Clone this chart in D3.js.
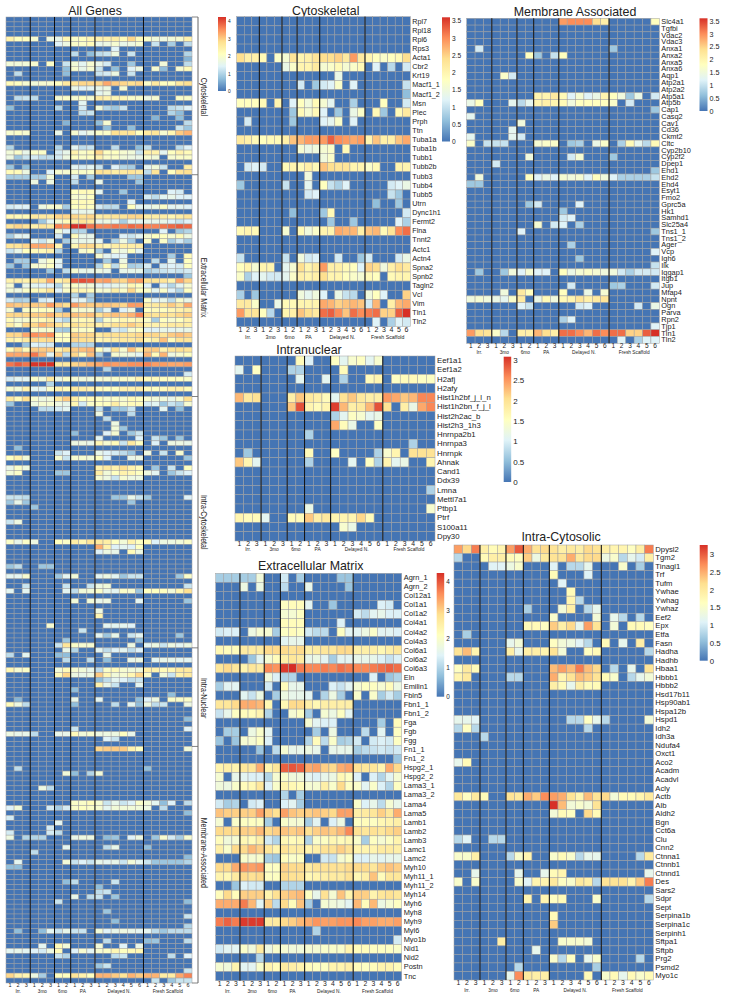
<!DOCTYPE html>
<html lang="en">
  <head>
    <meta charset="UTF-8" />
    <title></title>
    <script src="https://d3js.org/d3.v7.min.js"></script>
    <style>
      body { margin: 0; background: #fff; }
      text { font-family: 'Liberation Sans', Arial, sans-serif; fill: #222; }
    </style>
  </head>
  <body>
    <svg id="my_dataviz" width="729" height="999"></svg>
    <script>
      // Columns: sample number and experimental group
      const sampleLabels = [1,2,3, 1,2,3, 1,2, 1,2,3, 1,2,3,4,5,6, 1,2,3,4,5,6]
      const groupNames = ['Irr.', '3mo', '6mo', 'PA', 'Delayed N.', 'Fresh Scaffold']
      const groupSizes = [3, 3, 2, 3, 6, 6]

      const paletteColors = ['#4575b4', '#91bfdb', '#e0f3f8', '#ffffbf', '#fee090', '#fc8d59', '#d73027']

      const cytoskeletalGenes = ['Rpl7','Rpl18','Rpl6','Rps3','Acta1','Cbr2','Krt19','Macf1_1','Macf1_2','Msn','Plec','Prph','Ttn','Tuba1a','Tuba1b','Tubb1','Tubb2b','Tubb3','Tubb4','Tubb5','Utrn','Dync1h1','Fermt2','Flna','Tnnt2','Actc1','Actn4','Spna2','Spnb2','Tagln2','Vcl','Vim','Tln1','Tln2']
      const cytoskeletalValues = [
        [0,0,0, 0,0,0, 0,0, 0,0,0, 0,0,0,0,0,0, 0,0,0,0,0,0],
        [0,0,0, 0,0,0, 0,0, 0,0,0, 0,0,0,0,0,0, 0,0,0,0,0,0],
        [0,0,0, 0,0,0, 0,0, 0,0,0, 0,0,0,0,0,0, 0,0,0,0,0,0],
        [0,0,0, 0,0,0, 0,0, 0,0,0, 0,0,0,0,0,0, 0,0,0,0,0,0],
        [2.4,2.1,2.1, 1.9,0,1.7, 1.6,2.3, 2,2.1,2.3, 2.4,2.4,2.5,2.2,2.9,2.2, 2,1.8,1.7,1.8,1.9,2.4],
        [0,0,0, 0,0,0, 1.4,1.7, 2,2,2.2, 1.6,1.7,1.9,1.6,1.7,1.9, 0,1.2,0,.9,0,1.1],
        [0,0,0, 0,0,0, 0,0, 0,0,0, 0,0,1.4,0,0,0, 0,0,0,0,0,0],
        [0,0,0, 0,0,0, 0,0, 1.1,0,.7, 1.1,1.2,1.7,0,1.2,0, 0,0,0,0,0,1],
        [0,0,0, 0,0,0, 0,0, 0,0,0, 0,0,0,0,0,0, 0,0,0,0,0,.6],
        [1.8,1.8,1.8, 1.9,0,2, 0,1.2, 1.8,1.5,1.9, 1.6,1.3,0,0,.8,0, 0,0,1.8,0,0,1.1],
        [0,0,0, 0,0,0, 0,.7, 1.9,1.6,1.9, 1.2,0,.7,0,1.4,1.7, 0,1.9,.7,0,1.9,2.2],
        [0,1.1,0, 0,0,0, 0,.7, 0,0,0, 1.2,1.3,1.7,0,1.2,0, 0,0,0,0,0,0],
        [0,0,0, 0,0,0, 0,0, 0,0,0, 0,0,0,0,0,0, 0,0,0,0,0,0],
        [2.2,2.1,1.9, 1.8,1.9,1.9, 2.1,2.6, 2.7,2.9,2.9, 2.9,3.3,3,2.9,2.8,2.9, 2,2.6,2.1,2.1,2.6,2.8],
        [0,0,0, 0,0,0, 0,0, 1.6,1.4,1.5, 1.6,1.7,0,1.9,0,0, 0,0,0,0,0,0],
        [0,0,0, 0,0,0, 0,0, 0,0,0, 1.5,1.7,0,0,0,0, 0,0,0,0,0,0],
        [0,1.1,1.2, 1.1,0,0, 1.9,2, 1.9,2.1,1.9, 2.6,2.4,2.3,2.3,2,2, 1.7,1.9,0,0,2,2],
        [0,0,0, 0,0,0, 0,0, 0,1.5,0, 0,0,0,0,0,0, 0,0,0,0,0,0],
        [.7,0,0, 0,0,0, 1,0, 0,1.3,0, 1.8,1,.8,1.2,0,0, 0,0,0,1.1,1.2,1.4],
        [0,0,0, 0,0,0, 0,0, 0,1.1,1.2, 0,0,0,0,0,0, 0,0,0,1,.7,0],
        [0,0,0, 0,0,0, 0,0, 0,0,0, 0,0,0,0,0,0, 0,.6,0,0,.7,0],
        [0,0,0, 0,0,0, 0,.6, 0,0,0, .7,1.9,0,0,0,0, 0,0,0,0,0,1.1],
        [0,0,0, 0,0,0, 0,0, 0,0,0, 0,.7,0,0,.7,0, 0,0,0,0,1.2,.8],
        [1.9,2,1.9, 0,0,0, 1.6,0, 1.9,1.5,1.7, 2,2,2.8,2.7,2.7,2.1, 2.6,2.7,1.9,2.3,3,3.2],
        [0,0,0, 0,0,0, 0,0, 0,0,0, 0,0,0,0,0,0, 0,0,0,0,0,0],
        [0,0,0, 0,0,0, 0,0, 0,0,0, 0,0,0,0,0,0, 0,0,0,0,0,0],
        [1,0,0, 0,0,0, 1,0, 1.5,1.1,1.2, 0,0,1.1,0,0,.7, 1.1,0,0,0,1.1,1.4],
        [1.8,2,1.6, 2,2,0, 1.3,1.6, 2.4,2,2.2, 2.9,2.1,2.1,1.9,1.8,1.2, 2.5,2.4,1.5,2.1,2.4,2.2],
        [1.7,.8,1.2, 1.3,1.1,1.1, 1.3,1.7, 2.1,2,2.1, 2.4,2,2,1.8,1.7,1.6, 1.9,1.8,0,1.9,2,2],
        [0,0,0, 0,0,0, 0,0, 0,0,0, 0,0,0,0,0,0, 0,0,0,0,0,0],
        [.8,0,.7, 0,0,0, 0,0, 1.5,1.3,1.5, 1.2,0,1.4,1,.9,0, 1.5,1.8,1.2,0,0,2.5],
        [2.2,2.2,1.7, 0,0,1.4, 1.9,1.9, 2,2,2, 2.8,2.7,2.5,2.6,2.7,2.6, 1.1,2.7,0,2.1,2.7,2.8],
        [2.9,2.3,2.3, 1.8,.9,0, 2,2.1, 2.6,2.4,2.2, 3.2,3.3,3,2.6,3.2,3, 3.1,3.2,2.5,2.5,3.3,3.6],
        [0,0,0, 0,0,0, 0,0, 0,0,0, 0,0,0,0,0,0, 0,1.2,0,.8,1.2,1.1]
      ]

      const matrixGenes = ['Agrn_1','Agrn_2','Col12a1','Col1a1','Col1a2','Col4a1','Col4a2','Col4a3','Col6a1','Col6a2','Col6a3','Eln','Emilin1','Fbln5','Fbn1_1','Fbn1_2','Fga','Fgb','Fgg','Fn1_1','Fn1_2','Hspg2_1','Hspg2_2','Lama3_1','Lama3_2','Lama4','Lama5','Lamb1','Lamb2','Lamb3','Lamc1','Lamc2','Myh10','Myh11_1','Myh11_2','Myh14','Myh6','Myh8','Myh9','Myl6','Myo1b','Nid1','Nid2','Postn','Tnc']
      const matrixValues = [
        [.9,.9,.9, .9,.9,1.8, 0,0, 1.3,0,.9, 0,0,0,0,.8,.8, 0,0,0,0,0,0],
        [0,0,0, 1.7,0,1.7, 0,0, 1.1,0,0, 1.6,0,0,0,0,.8, 0,0,0,0,0,0],
        [0,0,0, 0,0,0, 0,0, 0,0,0, 0,0,0,0,0,0, 0,0,0,0,0,0],
        [0,0,0, 0,0,0, 0,0, 2.1,2.2,2.2, 1.5,0,0,.8,0,0, 0,0,0,1.4,1.3,0],
        [0,0,0, 0,0,0, 0,0, 1.9,1.9,2.1, 0,0,0,0,0,0, 1.3,1.1,1.5,1.6,1.4,1.4],
        [0,0,0, 0,0,0, 0,0, 2.2,2.2,2.2, 0,0,0,0,1.4,0, 0,0,0,0,0,0],
        [1.3,1.4,1.4, 0,1.7,1.9, 1.9,.9, 2.1,2.2,2.1, 1.3,1.1,1.1,0,2.1,1.5, 1.5,1.7,2,1.5,1.5,1.4],
        [0,0,0, 0,0,0, 0,0, 1.5,1.6,1.6, 0,0,0,0,0,0, 0,0,0,0,0,0],
        [2.3,2.2,2.2, 2.6,2.6,2.6, 2.9,2.9, 2.9,2.8,2.9, 2.5,2.6,2.7,2.7,2.9,2.9, 2.5,2.5,2.5,2.3,2.5,2.7],
        [0,0,0, 0,.8,1.5, 1.9,2.2, 2.5,2.7,2.6, 1.6,1.7,1.5,.9,1.5,1.5, 1.6,1.6,1.6,1.4,1.2,1.4],
        [2.7,2.9,2.7, 2.4,2.7,2.6, 3.6,3.5, 4.2,4.3,3.7, 3.6,3.6,3.7,3.6,3.8,3.7, 3.6,3.6,3.7,3.8,3.9,3.8],
        [0,0,0, 0,0,0, 1.8,1.4, 1,1,0, 0,0,0,0,0,0, 0,0,1.4,0,.8,1],
        [.9,1.5,1.5, 0,0,0, 1.3,0, 2.2,1.6,1.6, 0,0,0,1.4,1.2,1.5, 1.9,2.1,2.1,1.9,2.2,1.7],
        [0,0,0, 1.5,1.2,1.7, 0,.9, 1.7,1.6,1.6, 1.5,0,1,1.7,.9,0, 2,0,2,.9,1.3,.9],
        [2.7,2.7,2.9, 3.3,3.3,3.2, 2.3,0, 2.3,2.9,2.9, 2.5,2.3,2.5,2.5,2.5,2.5, 0,0,0,0,0,0],
        [1.2,1.6,2.1, 2.2,2.2,2.4, 1,0, 0,1.9,2.1, .9,0,1.9,1.7,2.1,1.5, 0,0,0,0,0,0],
        [0,0,0, 0,0,0, 0,0, 0,0,0, 1.9,1.5,1.4,1.4,0,0, 0,0,0,.9,0,2.2],
        [0,.9,.9, 0,1.7,2, 1.5,0, 0,0,0, 0,.9,0,1.7,0,0, 0,1.1,0,1.5,0,2.1],
        [.8,0,.8, 1.9,1.9,2.1, 1.4,0, 0,0,0, 1,2.2,1.1,2,.9,1, 1.3,0,1.3,1.4,1.3,2.1],
        [0,0,0, 0,0,.8, 0,1.1, 1.9,1.6,1.6, 1.7,1.6,0,1.6,1.6,1.6, .9,1.1,1.2,1.3,1.2,1.3],
        [0,0,0, 0,0,0, 0,0, 0,0,0, 0,0,0,0,0,0, 0,0,0,0,0,.8],
        [2.4,2.5,2.4, 2.7,2.7,3.3, 2.4,2.7, 3.9,4,3.9, 3.3,3.4,3,2.9,3.3,3.4, 2.8,2.7,2.7,2.4,3.3,2.9],
        [1.9,0,1.6, 1.5,1.4,1.4, 1,1.9, 2,1.8,1.8, 1.5,1.4,1.6,1.7,2.3,2.1, 1.4,0,1.4,1,1.5,1.9],
        [1.8,1.7,2, 2.2,2.3,2.7, 1.4,2, 2.4,2.3,2.2, 1.9,1.9,2.5,2,2.9,2.1, 2,1.5,2,1.4,1,2.1],
        [0,0,0, 0,0,0, 0,0, 1,0,.9, 0,0,0,0,0,0, 0,0,0,0,0,0],
        [1.3,.9,1, 0,1.3,1.4, 0,0, 1.4,1.5,.9, 0,0,0,0,0,0, 2,1.4,1.6,1.1,1.9,1.6],
        [3.1,3,3, 3,3,3.4, 3,2.8, 3.4,3.1,3, 3,3.1,3,2.9,3.4,3.4, 2.5,2.6,2.7,3,2.7,3.3],
        [1.9,0,2, 2.1,2.1,2.1, .9,0, 2,1.9,1.9, .9,1.5,0,1.4,1.7,0, 2.1,2.2,2.1,2.3,2.4,2.5],
        [2.9,2.9,2.9, 3,3,3.2, 2.9,3, 3.1,3,3.1, 2.8,3,3.1,3,3.2,3.6, 2.8,2.7,2.8,2.7,2.9,3],
        [2.2,1.8,1.9, 2.3,2.2,2.5, 1.3,1, 2.3,2.2,2.3, 1,2,2.1,2.3,2.2,2.3, 2,.9,2.1,1.9,2.1,2.4],
        [2.5,2,2.9, 2.9,3.2,3, 2.7,2.4, 2.8,2.6,2.6, 2.4,2.5,2.8,2.8,3,2.8, 2.4,2.4,2.4,2.6,2.6,2.5],
        [0,0,0, 2,1.9,2, .9,.8, 2.2,2,2.1, 0,0,1.3,1.2,1.9,2.1, 1.4,1.4,1.6,1.5,1.6,1.6],
        [2.9,2.9,3.3, 3.5,3.4,3.5, 2.1,2.1, 3,2.9,2.9, 2.6,2.8,2.8,2.8,2.8,2.9, 2.9,2.9,2.7,3,3.1,3],
        [2.4,2.3,2.6, 2.9,2.8,2.9, 2.1,2.1, 2.9,2.8,2.8, 2.3,2.4,2.5,2.6,2.6,2.8, 2.3,2.5,3.1,2.2,2.7,2.7],
        [0,0,.8, 1.4,1.3,1.3, 0,0, 1,1,1, 0,0,0,0,0,0, 0,0,0,0,0,0],
        [2.2,2.9,2.2, 3,3,3, 2.4,2.8, 3,3.1,3.2, 2.1,1.6,2.8,1.9,3.1,2.4, 3,3,2.4,2.7,2.8,2.7],
        [3.3,3.3,3.3, 3.7,3.2,1.5, 3,1.1, 2.9,2.2,3.1, .9,0,1.9,1.8,1.7,1.5, 3.2,2.2,3.2,1.7,1.9,2.1],
        [0,0,0, 0,0,0, 0,0, 0,0,0, 0,0,0,0,0,0, 0,0,0,0,0,0],
        [3.7,3.9,3.7, 4.2,4.2,4.2, 2.6,2.6, 2.9,3,3.2, 3.3,3.5,3.4,3.4,3.5,3.5, 3.6,3.4,3.4,3.3,3.3,3.4],
        [0,0,0, 0,0,0, 0,0, 0,0,0, 0,1,0,0,0,0, 0,0,0,0,0,0],
        [0,0,0, 0,0,0, 0,0, 0,0,0, 0,0,0,0,0,0, 0,0,0,0,0,1.3],
        [1.3,1.5,1.5, 2,1.8,2.6, 1.7,2, 1.9,1.8,1.8, 1.9,1.9,2,2,2,2.4, 2.2,2.2,2.1,2.1,2.1,2],
        [0,0,0, 0,0,1, 0,0, 0,0,0, 0,0,0,0,0,0, 0,0,0,0,0,0],
        [1.9,1.8,2.4, 1.5,1.5,2, 2.4,2.2, 2.6,2.5,2.4, 2.2,2.1,2.1,2.4,2.4,2.5, 2.2,2.1,2.2,2.4,2.4,2.2],
        [0,0,0, 0,0,0, 0,0, 0,0,0, 0,0,0,0,0,0, 0,0,0,0,0,0]
      ]

      const cytosolicGenes = ['Dpysl2','Tgm2','Tinagl1','Trf','Tufm','Ywhae','Ywhag','Ywhaz','Eef2','Epx','Etfa','Fasn','Hadha','Hadhb','Hbaa1','Hbbb1','Hbbb2','Hsd17b11','Hsp90ab1','Hspa12b','Hspd1','Idh2','Idh3a','Ndufa4','Oxct1','Aco2','Acadm','Acadvl','Acly','Actb','Alb','Aldh2','Bgn','Cct6a','Clu','Cnn2','Ctnna1','Ctnnb1','Ctnnd1','Des','Sars2','Sdpr','Sept','Serpina1b','Serpina1c','Serpinh1','Sftpa1','Sftpb','Prg2','Psmd2','Myo1c']
      const cytosolicValues = [
        [2.6,2.2,2.8, 1.9,1.7,1.8, 2.6,3, 2.5,2.1,2.2, 2.1,1.9,2,1.9,2.2,2.1, 1.9,1.8,1.8,1.6,1.9,2.8],
        [.8,0,0, 1.7,1.9,1.9, 1.7,1.6, 2.3,1.3,2, 2.1,2.1,2.5,2,2.2,2.2, 1.3,1.5,.8,1.2,1,1.9],
        [0,0,0, 0,1.1,1.1, 1.3,1.5, 0,0,0, 1.1,0,.8,.8,1.2,0, 0,0,1.5,0,.7,0],
        [0,0,0, 0,0,0, 0,0, 0,0,0, 1.7,0,0,0,1.1,0, 0,0,0,0,0,0],
        [0,0,0, 0,0,0, 0,0, 0,0,0, 0,1.1,0,0,0,0, 0,0,0,0,0,0],
        [0,0,0, 0,0,0, 0,0, 0,0,0, 0,0,1.7,0,0,0, 0,0,0,0,0,0],
        [0,0,0, 0,0,0, 0,0, 0,0,0, 0,0,1.8,.8,0,0, 0,0,0,0,0,0],
        [0,0,0, 0,0,0, 0,0, .7,0,0, 0,1.4,1.9,0,.8,1.2, 0,0,0,0,0,0],
        [0,0,0, 0,0,0, 0,0, 0,0,0, 1.5,0,0,0,0,1.4, 0,1.2,.8,0,.8,0],
        [0,0,0, 0,0,0, 0,0, 1.7,1.7,1.6, 2.3,1.9,2.2,1.2,2.6,2.1, 0,1.4,0,1.7,1.7,1.6],
        [0,.7,0, 0,0,0, 0,0, 0,0,0, 0,0,0,0,0,0, 0,0,0,0,0,0],
        [0,0,0, 0,0,0, 1.2,1.4, 0,0,0, 1.6,1.4,1.3,1.1,.8,0, 1.7,0,1.2,0,1.9,0],
        [2.1,2.4,1.8, 0,0,0, 1.9,1.2, 1.9,1.9,1.8, 2.1,1.4,0,0,1.6,1.7, 0,0,0,0,0,.8],
        [0,0,0, 0,0,0, 0,0, 0,0,0, 0,0,0,0,0,0, 0,0,0,0,0,0],
        [1.6,2,1.7, 0,0,0, 0,0, 0,0,0, 2.4,2.6,2.4,2.8,2.4,2.2, 0,.8,0,1.2,0,2.1],
        [1.8,2,0, 0,0,0, .8,.8, 0,0,0, 2.5,1.8,2.1,2.4,2.3,2.1, 1.7,1.5,0,.8,1.2,1.4],
        [0,0,0, 0,0,0, 0,0, 0,0,0, 1.9,1.7,1.2,1.9,1.7,1.7, 0,0,0,0,0,0],
        [0,0,0, 0,0,0, 0,0, 0,0,0, 0,0,0,0,0,0, 0,0,0,0,0,0],
        [0,0,0, 0,0,0, 0,0, 0,0,0, 0,0,0,0,0,0, 0,0,0,0,0,0],
        [0,0,0, 0,0,0, 0,0, 0,0,0, 0,0,0,0,0,0, 0,0,0,0,0,0],
        [1.2,1.2,1.1, 0,0,0, 0,0, 0,0,0, 0,0,.8,.8,1.6,1.2, .8,0,0,0,0,1.4],
        [.8,1.6,.8, 0,0,0, 0,0, 0,0,0, 0,0,0,0,.8,0, 0,0,0,0,0,0],
        [0,0,0, .8,0,0, 0,0, 0,0,0, 0,0,0,0,0,0, 0,0,0,0,0,0],
        [0,0,0, 0,0,0, 0,0, 0,0,0, 0,0,0,0,0,0, 0,0,0,0,0,0],
        [0,0,0, 0,0,0, 0,0, 0,0,0, 0,0,0,0,0,0, 0,0,0,0,0,0],
        [1.2,1.7,0, 0,0,0, 0,0, 0,0,0, 0,0,0,0,0,0, 0,0,0,0,0,0],
        [0,0,0, 0,0,0, 0,0, 0,0,0, 0,0,0,0,0,0, 0,0,0,0,0,0],
        [0,0,0, 0,0,0, 0,0, 0,0,0, 0,0,0,0,0,0, 0,0,0,0,0,0],
        [0,0,0, 0,0,0, 0,0, 0,0,0, 0,0,0,0,0,0, 0,0,0,0,0,0],
        [2,1.6,2, 1.7,0,0, 2.1,2, 2.5,2.3,2.7, 2.6,2.5,2.1,1.8,2.4,2.1, 2.2,1.4,1.7,1.7,1.8,2],
        [0,0,0, 0,0,0, 0,0, 0,0,0, 3.25,2.4,1.4,1.5,1.4,2.1, 0,0,0,0,0,0],
        [0,0,0, 0,0,0, 0,0, 0,0,0, 1.4,1.7,1.6,0,2.2,1.7, 0,0,0,0,0,0],
        [0,0,0, 0,0,0, 0,0, 0,0,0, 0,0,0,0,0,0, 0,0,0,0,0,0],
        [0,0,0, 0,0,0, 0,0, 0,0,0, 0,0,0,0,0,0, 0,0,0,0,0,0],
        [.8,1.1,0, 0,.8,.8, 0,0, 0,0,0, 0,0,0,0,0,0, 0,0,0,0,0,0],
        [0,0,0, 0,0,0, 0,0, 0,0,0, 0,0,0,0,0,0, 0,0,0,0,0,0],
        [1.5,1.5,1.9, 0,0,0, .8,1.5, 1.8,0,0, 1.5,1.7,1.5,.8,1.2,1.2, 0,0,0,0,.8,2],
        [0,0,0, 0,0,0, 0,0, 0,0,0, 0,0,0,0,0,0, 0,0,0,0,0,0],
        [0,0,1.2, 0,0,0, 0,1.2, 0,0,1.2, 1.7,1.8,0,0,0,0, 0,0,0,0,0,1.2],
        [1.5,0,1.5, 0,0,0, 0,1.5, 1.1,1.8,1.8, 2,1.6,1.5,2,1.9,.8, 2.1,2.1,2.1,1.8,2.3,2.8],
        [0,0,0, 0,0,0, 0,0, 0,0,0, 0,0,0,0,0,0, 0,0,0,0,0,0],
        [0,0,0, 0,0,0, 0,0, 1.8,0,1.8, 1.6,1.7,0,0,0,1.5, 0,0,0,0,0,.8],
        [0,0,0, 0,0,0, 0,0, 0,0,0, 0,0,0,0,0,0, 0,0,0,0,0,0],
        [0,0,0, 0,0,0, 0,0, 0,0,0, 1.7,0,0,0,0,0, 0,0,0,0,0,0],
        [0,0,0, 0,0,0, 0,0, 0,0,0, 2.3,0,0,0,0,0, 0,0,0,0,0,0],
        [0,0,0, 0,0,0, 0,0, 0,0,0, 0,0,0,0,0,0, 0,0,0,0,0,0],
        [0,0,0, 0,0,1.9, 0,0, 0,0,0, 0,1.5,1.5,1.5,1.4,0, 0,0,0,0,0,0],
        [0,0,0, 0,0,0, 0,0, 0,1.2,0, 0,0,0,0,0,0, 0,0,0,0,0,0],
        [0,0,0, 0,0,0, 0,0, 0,0,0, 1.5,.8,1.6,0,1.2,1.5, 0,0,0,0,.8,0],
        [0,0,0, 0,0,0, 0,.8, 0,0,0, 0,0,0,0,0,.7, 0,0,0,0,0,0],
        [0,0,0, 0,0,0, 1.2,2.7, 2,1.9,1.9, 0,0,0,0,1.7,0, 1.5,1.7,1.2,1.7,1.5,1.7]
      ]

      const nuclearGenes = ['Eef1a1','Eef1a2','H2afj','H2afy','Hist1h2bf_j_l_n','Hist1h2bn_f_j_l','Hist2h2ac_b','Hist2h3_1h3','Hnrnpa2b1','Hnrnpa3','Hnrnpk','Ahnak','Cand1','Ddx39','Lmna','Mettl7a1','Ptbp1','Ptrf','S100a11','Dpy30']
      const nuclearValues = [
        [0,0,0, 0,0,0, 0,1.6, 1,0,0, 1.5,1.1,1.4,1.5,1.1,1.4, 0,0,0,0,0,0],
        [1.1,0,1.5, 0,0,0, .7,.7, 0,0,0, 0,1.6,0,0,0,0, 0,0,0,0,0,0],
        [0,0,0, 0,0,0, 0,1.1, 0,0,1.1, 0,.7,0,0,1.6,1.7, 0,1.5,1.6,1.6,1.5,1.5],
        [0,0,0, 0,0,0, 0,0, 0,0,0, 0,0,0,0,0,0, 0,0,0,0,0,0],
        [2.3,1.9,2, 0,0,0, 1.8,2.2, 1.9,1.8,1.6, 1.1,2,2.2,1.9,1.8,1.8, 2.5,2.4,2.2,2.3,2.6,2.6],
        [0,0,0, 0,0,0, 2.2,2.9, 1.7,1.6,1.7, 3,2.3,1.8,1.9,2.3,2.9, 2,0,1.8,1.2,2.4,2.6],
        [0,0,0, 0,0,0, 0,0, 0,0,0, .7,1.1,1.5,1.4,1.1,1.2, 0,0,0,0,0,0],
        [0,0,0, 0,0,0, 0,0, 0,0,0, 2.4,1.6,1.2,0,0,1.5, 0,0,0,0,0,0],
        [0,0,0, 0,0,0, 0,0, .7,0,0, 0,0,0,0,0,0, 0,0,0,0,0,0],
        [0,0,0, 0,0,0, 0,0, 0,0,0, 0,0,0,0,0,0, 0,0,0,.7,0,0],
        [0,.6,0, 0,0,0, 0,0, 1.6,0,0, 1.5,0,0,0,0,.7, 1.4,1.7,0,2,2,2],
        [2.2,1.7,1.1, 0,0,0, 0,0, .7,0,0, 0,0,1.1,0,1.5,.7, 1.7,1.1,1.2,0,0,1.7],
        [0,0,0, 0,0,0, 0,0, 0,0,0, 0,0,0,0,0,0, 0,0,0,0,0,0],
        [0,0,0, 0,0,0, 0,0, 0,0,0, 0,0,0,0,0,0, 0,0,0,0,0,0],
        [0,0,0, 0,0,0, 0,0, 0,0,0, 0,0,0,0,0,0, 0,0,0,0,0,.7],
        [0,0,0, 0,0,0, 0,0, 0,0,0, 0,0,0,0,0,0, 0,0,0,0,0,0],
        [0,0,0, 0,0,0, 0,0, 1.2,0,0, 0,0,0,0,0,0, 0,0,0,0,0,1.4],
        [1.7,1.6,1.6, 1.1,0,0, 1.6,1.6, 2.2,1.8,1.9, 1.7,1.7,1.7,2.1,1.6,0, 0,0,0,0,0,0],
        [0,0,0, 0,0,0, 0,0, 0,0,0, 0,1.4,1.2,0,0,0, 0,0,0,0,0,0],
        [0,0,0, 0,0,0, 0,0, 0,0,0, 0,0,0,0,0,0, 0,0,0,0,0,0]
      ]

      const membraneGenes = ['Slc4a1','Tgfbi','Vdac2','Vdac3','Anxa1','Anxa2','Anxa5','Anxa6','Aqp1','Atp2a1','Atp2a2','Atp5a1','Atp5b','Cap1','Casq2','Cav1','Cd36','Ckmt2','Cltc','Cyp2b10','Cyp2f2','Dpep1','Ehd1','Ehd2','Ehd4','Esyt1','Fmo2','Gprc5a','Hk1','Samhd1','Slc25a4','Tns1_1','Tns1_2','Ager','Vcp','Igh6','Ilk','Iqgap1','Itgb1','Jup','Mfap4','Npnt','Ogn','Parva','Rpn2','Tjp1','Tln1','Tln2']
      const membraneValues = [
        [0,0,0, 0,0,0, 0,0, 0,0,0, 2.9,3,3,3,2.4,2.1, 0,0,0,0,0,1.8],
        [0,0,0, 0,0,0, 0,0, 0,0,0, 0,0,0,0,0,0, 0,0,0,0,0,0],
        [0,0,0, 0,0,0, 0,0, 0,0,0, 0,0,0,0,0,0, 0,0,0,0,0,0],
        [0,0,0, 0,0,0, 0,0, 0,0,0, 0,0,0,0,0,0, 0,0,0,0,0,0],
        [0,1.1,0, 0,0,0, 0,0, 0,0,0, 0,0,0,0,0,0, .7,0,0,0,0,0],
        [0,0,0, 0,0,0, 0,1.8, .7,0,1, 1.8,0,0,0,0,0, 0,0,0,0,0,0],
        [0,0,0, 0,0,0, 0,0, 0,0,0, 0,0,0,0,0,0, 0,0,0,0,0,0],
        [0,0,0, 0,0,0, 0,0, 0,0,0, 0,0,0,0,0,0, 0,0,0,0,0,0],
        [0,0,0, 0,1.7,1.1, 0,0, 0,0,0, 0,0,0,0,0,0, 0,0,0,0,0,0],
        [0,0,0, 0,0,0, 0,0, 0,0,0, 0,0,0,0,0,0, 0,0,0,0,0,0],
        [0,0,0, 0,0,0, 0,0, 0,0,0, 0,0,0,0,0,0, 0,0,0,0,0,0],
        [0,0,0, 0,0,0, 0,0, 2,2,2.2, 1.9,1.2,1.6,1.2,1.4,2, 1.8,1.5,.7,1.4,0,1.1],
        [1.4,1.8,0, 0,0,1.3, .9,1.3, 2,2.1,2, 1.9,1.5,1.8,1.8,1.8,1.8, 1.7,0,1.1,0,0,0],
        [0,0,0, 0,0,0, 0,0, 0,0,0, 0,0,0,0,0,0, 0,0,0,0,0,.7],
        [1.3,0,0, 0,0,0, 0,0, 0,0,0, 0,0,0,0,0,0, 0,0,0,0,0,0],
        [0,0,0, 0,0,0, 1.5,0, 0,0,0, 0,0,0,0,0,0, 0,0,0,0,0,0],
        [0,0,0, 0,0,1.3, 0,0, 0,0,0, 0,0,0,0,0,0, 0,0,0,0,0,0],
        [1.3,0,0, 0,0,1.3, 1.1,0, 0,0,0, 0,0,0,0,0,0, 0,0,0,0,0,0],
        [1.7,0,1, 1,1,0, 0,0, 1.6,1.7,1.7, 0,.7,.8,0,1.4,1.7, 0,.8,1.9,1.3,.9,1.9],
        [0,0,0, 0,0,0, 0,0, 0,0,0, 0,0,0,0,0,0, 0,0,0,0,0,0],
        [0,0,0, 0,0,0, 0,1.5, 0,0,0, 0,1.1,1.6,0,0,0, .7,0,0,0,0,0],
        [0,0,0, 1.1,0,0, 0,0, 0,0,0, 0,0,0,0,0,0, 0,0,0,0,0,0],
        [0,0,0, 0,0,0, 0,0, 0,0,0, 0,0,0,0,0,0, 0,0,0,0,0,.7],
        [0,1.5,0, 0,0,0, 0,1.8, 1.2,1.4,1.2, 1.6,1.5,1.6,1.2,1.8,1.5, 1.2,.8,.8,.8,.8,1],
        [.7,.7,0, 0,0,0, 0,0, 0,0,0, 0,0,0,0,0,0, 0,0,0,0,0,0],
        [0,0,0, 0,0,0, 0,0, 0,0,0, 0,0,0,0,0,0, 0,0,0,0,0,0],
        [0,0,0, 0,0,0, 0,0, 0,0,0, 0,0,0,0,0,0, 0,0,0,0,0,0],
        [0,0,0, 0,0,0, 0,.7, 1.1,0,0, 0,0,1.2,0,0,0, 0,0,0,0,0,0],
        [0,0,0, 0,0,0, 0,0, 0,0,0, .7,0,0,0,0,0, 0,0,0,0,0,0],
        [0,0,0, 0,0,0, 0,0, 0,0,0, 1.1,1.2,0,0,0,0, 0,0,0,0,0,0],
        [0,0,0, 0,0,0, 0,0, 1.6,0,1.1, 1.2,0,.8,0,0,0, 0,0,0,0,0,0],
        [0,0,0, 0,0,0, 1.2,0, 0,0,0, 0,0,0,0,0,0, 0,0,0,0,0,.7],
        [0,0,0, 0,0,0, 0,0, 0,0,0, 0,0,0,0,0,0, 0,0,0,0,0,0],
        [0,0,0, 0,0,0, 0,0, 0,0,0, 0,.8,0,0,0,0, 0,0,0,0,0,0],
        [0,0,0, 0,0,0, 0,0, 0,0,0, 0,0,0,0,0,0, 0,0,0,0,0,1.2],
        [0,0,0, 0,0,0, 0,0, 0,0,0, 0,0,.7,0,0,0, 0,0,0,0,0,0],
        [0,0,0, 0,0,0, 0,0, 0,0,0, 0,0,0,0,0,0, 0,0,0,0,0,1],
        [0,.7,0, 0,.7,1.5, 1.2,1.6, 1.2,1.2,0, 1.8,1.4,1.6,1.7,1.6,1.5, 1.5,1.1,.8,1.1,1.1,1.1],
        [0,0,0, 0,0,0, 0,0, 0,0,0, 0,0,0,0,0,0, 0,0,0,0,0,0],
        [0,0,0, 0,0,0, 0,0, 0,0,0, 0,1.1,0,0,0,0, .7,.8,0,0,0,1.1],
        [0,0,0, 0,1.5,0, 2.2,1.8, 0,0,0, 1.8,0,0,1.4,0,1.6, 0,0,0,0,0,0],
        [1.5,1.6,1.5, 1.4,1.3,1.7, 2.2,0, 1.4,1.9,1.5, 1.9,2,2.3,2.1,2.2,2.3, 0,0,0,0,0,0],
        [0,0,0, 0,0,0, 1.2,1, 0,0,0, 0,0,1.1,1.2,0,0, 0,0,0,1.1,0,1.4],
        [0,0,0, 0,0,0, 0,0, 0,0,0, 0,0,0,0,0,0, 0,0,0,0,0,0],
        [0,0,0, 0,0,0, 0,0, 0,0,0, .8,1.2,0,0,0,0, 0,0,0,0,0,0],
        [0,0,0, 0,0,0, 0,0, 0,0,0, 0,0,0,0,0,0, 0,0,0,0,0,1.2],
        [2.9,2.4,2.3, 1.7,.9,0, 2.1,2.1, 2.7,2.4,2.1, 3.2,3.2,3,2.7,3.2,3, 3.2,3.2,2.5,2.5,3.3,3.6],
        [0,0,0, 0,0,0, 0,0, 0,0,0, 0,0,0,0,0,0, 0,1.2,0,.8,1.2,1.2]
      ]

      // All Genes stacks the classes; Tln1 and Tln2 only appear once, at the end
      const allValues = [
        ...cytoskeletalValues.slice(0, 32),
        ...matrixValues,
        ...cytosolicValues,
        ...nuclearValues,
        ...membraneValues
      ]
      const classNames = ['Cytoskeletal', 'Extracellular Matrix', 'Intra-Cytoskeletal', 'Intra-Nuclear', 'Membrane-Associated']
      const classEnds = [0, 32, 77, 128, 148, 196]

      const svg = d3.select('svg')

      // Group boundaries as column indices
      const groupEnds = d3.cumsum(groupSizes)
      const groupStarts = [0, ...groupEnds.slice(0, -1)]

      function drawHeatmap(p) {
        const x = d3.scaleBand().domain(d3.range(sampleLabels.length)).range([p.x0, p.x1])
        const y = d3.scaleBand().domain(d3.range(p.values.length)).range([p.y0, p.y1])
        const color = d3
          .scaleLinear()
          .domain(paletteColors.map((c, i) => (i * p.max) / 6))
          .range(paletteColors)
        const g = svg.append('g')

        g.append('text')
          .attr('x', p.titleX)
          .attr('y', p.titleY)
          .attr('text-anchor', 'middle')
          .style('font-size', '12.4px')
          .text(p.title)

        // Cells
        g.selectAll('g.row')
          .data(p.values)
          .join('g')
          .attr('class', 'row')
          .attr('transform', (d, i) => `translate(0,${y(i)})`)
          .selectAll('rect')
          .data(d => d)
          .join('rect')
          .attr('x', (d, i) => x(i))
          .attr('width', x.bandwidth())
          .attr('height', y.bandwidth())
          .attr('fill', d => color(d))
          .attr('stroke', '#a0a0a0')
          .attr('stroke-width', 0.5)

        // Black lines between the groups
        g.selectAll('line.sep')
          .data(groupEnds.slice(0, -1))
          .join('line')
          .attr('class', 'sep')
          .attr('x1', d => x(d))
          .attr('x2', d => x(d))
          .attr('y1', p.y0)
          .attr('y2', p.y1)
          .attr('stroke', '#0d0d0d')
          .attr('stroke-width', 1)

        // Gene names
        if (p.genes) {
          const rowAxis = d3
            .axisRight(y)
            .tickSize(0)
            .tickPadding(2)
            .tickFormat(i => p.genes[i])
          g.append('g')
            .attr('transform', `translate(${p.x1},0)`)
            .call(rowAxis)
            .call(a => a.select('.domain').remove())
            .selectAll('text')
            .style('font-size', p.geneFont + 'px')
        }

        // Sample numbers
        const colAxis = d3
          .axisBottom(x)
          .tickSize(0)
          .tickPadding(p.numPad)
          .tickFormat(i => sampleLabels[i])
        g.append('g')
          .attr('transform', `translate(0,${p.y1})`)
          .call(colAxis)
          .call(a => a.select('.domain').remove())
          .selectAll('text')
          .style('font-size', p.numFont + 'px')

        // Group names
        g.selectAll('text.group')
          .data(groupNames)
          .join('text')
          .attr('class', 'group')
          .attr('x', (d, i) => (x(groupStarts[i]) + x(groupEnds[i] - 1) + x.bandwidth()) / 2)
          .attr('y', p.groupY)
          .attr('text-anchor', 'middle')
          .style('font-size', p.groupFont + 'px')
          .text(d => d)

        // Colour bar
        const legendY = d3.scaleLinear().domain([0, p.max]).range([p.legend.bottom, p.legend.top])
        const gradId = 'grad' + p.title.replace(/\W/g, '')
        const grad = g
          .append('linearGradient')
          .attr('id', gradId)
          .attr('x1', 0)
          .attr('x2', 0)
          .attr('y1', 1)
          .attr('y2', 0)
        paletteColors.forEach((c, i) => {
          grad.append('stop').attr('offset', i / 6).attr('stop-color', c)
        })
        g.append('rect')
          .attr('x', p.legend.x)
          .attr('y', p.legend.top)
          .attr('width', p.legend.w)
          .attr('height', p.legend.bottom - p.legend.top)
          .attr('fill', `url(#${gradId})`)
        g.append('g')
          .attr('transform', `translate(${p.legend.x + p.legend.w},0)`)
          .call(
            d3.axisRight(legendY).tickValues(p.legend.ticks).tickSize(0).tickPadding(2).tickFormat(d3.format('~g'))
          )
          .call(a => a.select('.domain').remove())
          .selectAll('text')
          .style('font-size', p.legend.font + 'px')

        return y
      }

      const yAll = drawHeatmap({
        title: 'All Genes', values: allValues, max: 4.23,
        x0: 6, x1: 192, y0: 17, y1: 983, titleX: 95, titleY: 15,
        numPad: 0.5, numFont: 5.5, groupY: 992.5, groupFont: 4.7,
        legend: { x: 218, w: 8, top: 17, bottom: 91, ticks: [0, 1, 2, 3, 4], font: 4.8 }
      })
      drawHeatmap({
        title: 'Cytoskeletal', values: cytoskeletalValues, genes: cytoskeletalGenes, geneFont: 7.2, max: 3.6,
        x0: 236.7, x1: 410.3, y0: 16.7, y1: 326.7, titleX: 325.7, titleY: 14.5,
        numPad: 0.5, numFont: 7, groupY: 338.5, groupFont: 5.2,
        legend: { x: 442, w: 8, top: 17.3, bottom: 141.5, ticks: [0, 0.5, 1, 1.5, 2, 2.5, 3, 3.5], font: 6.6 }
      })
      drawHeatmap({
        title: 'Membrane Associated', values: membraneValues, genes: membraneGenes, geneFont: 7.4, max: 3.6,
        x0: 466.7, x1: 659.3, y0: 18.3, y1: 343.3, titleX: 575, titleY: 15.8,
        numPad: 0.5, numFont: 6.5, groupY: 353.5, groupFont: 4.8,
        legend: { x: 699.5, w: 8, top: 18.3, bottom: 111, ticks: [0, 0.5, 1, 1.5, 2, 2.5, 3, 3.5], font: 7.2 }
      })
      drawHeatmap({
        title: 'Intranuclear', values: nuclearValues, genes: nuclearGenes, geneFont: 7.8, max: 3.08,
        x0: 235, x1: 435, y0: 356, y1: 541, titleX: 309, titleY: 353.5,
        numPad: 0.5, numFont: 6.8, groupY: 551, groupFont: 4.8,
        legend: { x: 503.7, w: 7.5, top: 356.7, bottom: 482, ticks: [0, 0.5, 1, 1.5, 2, 2.5, 3], font: 8 }
      })
      drawHeatmap({
        title: 'Extracellular Matrix', values: matrixValues, genes: matrixGenes, geneFont: 7.4, max: 4.28,
        x0: 215.7, x1: 401.7, y0: 573.3, y1: 980.7, titleX: 310.7, titleY: 570,
        numPad: 0.5, numFont: 6.8, groupY: 992.5, groupFont: 4.8,
        legend: { x: 436.7, w: 7.5, top: 573, bottom: 696.7, ticks: [0, 1, 2, 3, 4], font: 6.4 }
      })
      drawHeatmap({
        title: 'Intra-Cytosolic', values: cytosolicValues, genes: cytosolicGenes, geneFont: 7.7, max: 3.25,
        x0: 454, x1: 653.3, y0: 545, y1: 980, titleX: 561, titleY: 541,
        numPad: 0.5, numFont: 6.8, groupY: 991.5, groupFont: 4.8,
        legend: { x: 699.7, w: 8, top: 545, bottom: 660.7, ticks: [0, 0.5, 1, 1.5, 2, 2.5, 3], font: 7.8 }
      })

      // Class brackets next to All Genes
      const bracketX = 198
      const classY = i => (i < yAll.domain().length ? yAll(i) : 983)
      svg
        .append('line')
        .attr('x1', bracketX)
        .attr('x2', bracketX)
        .attr('y1', 17)
        .attr('y2', 983)
        .attr('stroke', '#666')
        .attr('stroke-width', 1)
      svg
        .selectAll('line.cls')
        .data(classEnds)
        .join('line')
        .attr('class', 'cls')
        .attr('x1', 192)
        .attr('x2', bracketX)
        .attr('y1', d => classY(d))
        .attr('y2', d => classY(d))
        .attr('stroke', '#666')
        .attr('stroke-width', 0.8)
      svg
        .selectAll('text.cls')
        .data(classNames)
        .join('text')
        .attr('class', 'cls')
        .attr('text-anchor', 'middle')
        .attr('transform', (d, i) => {
          const offset = [1, 2, 0, 1, -12][i]
          const mid = (classY(classEnds[i]) + classY(classEnds[i + 1])) / 2 + offset
          return `translate(201,${mid}) rotate(90) scale(0.78,1)`
        })
        .style('font-size', '9px')
        .text(d => d)
    </script>
  </body>
</html>
